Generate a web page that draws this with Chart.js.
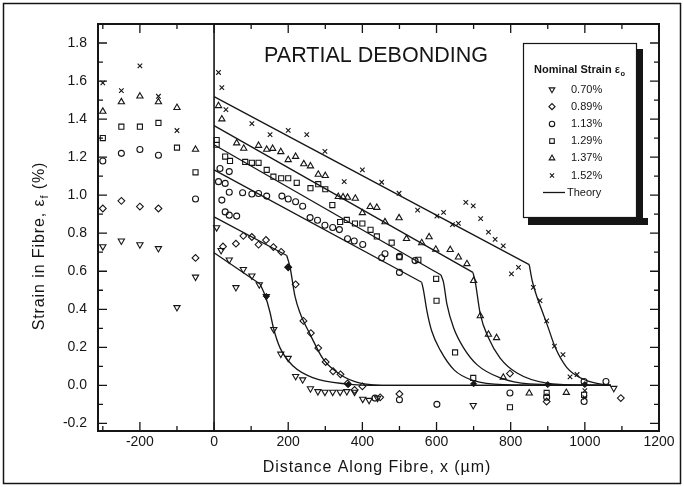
<!DOCTYPE html>
<html><head><meta charset="utf-8">
<script src="https://cdn.jsdelivr.net/npm/chart.js@4.4.1/dist/chart.umd.min.js"></script>
<style>html,body{margin:0;padding:0;background:#fff;}#c{display:block;}</style>
</head><body>
<canvas id="c" width="684" height="487"></canvas>
<script>
const FONT = '"Liberation Sans", Arial, Helvetica, sans-serif';
const INK = '#151515';

// ---- text ----
const chartTitle = 'PARTIAL DEBONDING';
const xAxisTitle = 'Distance Along Fibre, x (\u00b5m)';
const yAxisTitleParts = ['Strain in Fibre, \u03b5', 'f', ' (%)'];
const legendTitleParts = ['Nominal Strain \u03b5', 'o'];
const seriesLabels = ['0.70%', '0.89%', '1.13%', '1.29%', '1.37%', '1.52%'];
const theoryLabel = 'Theory';

// ---- axis ticks ----
const xRange = [-313, 1200];
const yRange = [-0.24, 1.90];
const xTickStep = 200, xMinorStep = 100;
const yTickStep = 0.2, yMinorStep = 0.1;

// ---- measured strain, [x (um), strain (%)] ----
const strain070 = [[-300,0.73],[-250,0.76],[-200,0.74],[-150,0.72],[-100,0.41],[-50,0.57],
  [7,0.83],[19,0.71],[41,0.66],[59,0.515],[79,0.61],[102,0.576],[122,0.53],[141,0.468],[161,0.295],
  [180,0.165],[200,0.143],[220,0.048],[239,0.03],[260,-0.017],[280,-0.032],[299,-0.035],[320,-0.035],
  [340,-0.035],[358,-0.032],[379,-0.035],[401,-0.072],[418,-0.078],[441,-0.067],[699,-0.105],[1078,-0.015]];
const strain089 = [[-300,0.93],[-250,0.97],[-200,0.94],[-150,0.93],[-50,0.67],
  [24,0.73],[59,0.745],[79,0.786],[102,0.78],[120,0.74],[140,0.764],[160,0.727],[181,0.702],[200,0.621],
  [220,0.531],[241,0.339],[261,0.275],[281,0.196],[301,0.123],[321,0.074],[341,0.058],[360,0.01],
  [379,-0.024],[400,-0.005],[448,-0.063],[500,-0.045],[798,0.062],[897,-0.085],[1097,-0.067]];
const strain113 = [[-300,1.18],[-250,1.22],[-200,1.24],[-150,1.21],[-50,0.98],
  [16,1.14],[41,1.124],[12,1.071],[30,1.062],[21,0.974],[41,1.015],[30,0.912],[41,0.895],[61,0.89],
  [77,1.013],[102,1.006],[120,1.009],[142,0.995],[183,0.995],[200,0.98],[220,0.965],[239,0.942],
  [259,0.882],[279,0.868],[299,0.842],[320,0.83],[338,0.819],[360,0.771],[378,0.759],[401,0.741],
  [452,0.671],[461,0.692],[500,0.678],[500,0.594],[542,0.656],[434,-0.067],[500,-0.076],[601,-0.1],
  [798,-0.04],[897,-0.062],[998,0.02],[998,-0.085],[1057,0.02]];
const strain129 = [[-300,1.30],[-250,1.36],[-200,1.36],[-150,1.38],[-100,1.25],[-50,1.12],
  [7,1.29],[7,1.265],[30,1.203],[43,1.18],[84,1.175],[102,1.17],[120,1.17],[142,1.133],[160,1.097],
  [181,1.089],[200,1.089],[223,1.065],[260,1.037],[281,1.058],[300,1.031],[319,0.948],[340,0.859],
  [358,0.87],[380,0.851],[400,0.851],[422,0.818],[439,0.783],[479,0.75],[500,0.674],[551,0.66],
  [599,0.56],[600,0.445],[650,0.173],[699,0.039],[798,-0.115],[897,-0.04],[998,-0.05]];
const strain137 = [[-300,1.44],[-250,1.49],[-200,1.52],[-150,1.49],[-100,1.46],[-50,1.24],
  [12,1.47],[21,1.40],[61,1.274],[80,1.246],[120,1.261],[142,1.24],[158,1.245],[180,1.228],[200,1.186],
  [220,1.203],[242,1.164],[260,1.153],[281,1.109],[300,1.102],[335,0.992],[348,0.99],[360,0.988],
  [381,0.983],[400,0.907],[421,0.939],[439,0.935],[461,0.859],[499,0.88],[519,0.771],[560,0.749],
  [580,0.78],[598,0.715],[637,0.713],[659,0.674],[682,0.639],[700,0.55],[718,0.365],[740,0.268],
  [762,0.25],[780,0.042],[850,-0.041],[950,-0.038]];
const strain152 = [[-300,1.59],[-250,1.55],[-200,1.68],[-150,1.52],[-100,1.34],
  [12,1.645],[21,1.565],[32,1.45],[102,1.376],[151,1.318],[200,1.341],[250,1.318],[299,1.23],
  [351,1.071],[400,1.133],[452,1.068],[499,1.01],[549,0.921],[601,0.89],[619,0.91],[643,0.845],
  [659,0.852],[679,0.962],[699,0.944],[719,0.877],[740,0.806],[758,0.768],[780,0.733],[802,0.586],
  [821,0.62],[861,0.515],[879,0.445],[897,0.339],[918,0.206],[941,0.162],[960,0.045],[979,0.057],
  [1000,-0.028],[1000,-0.065]];
// heavy overlapping marks that print as solid black
const overlapMarks = [[141,0.468],[200,0.621],[362,0.004],[700,0.008],[900,0.004],[1000,0.004]];

// ---- theory: linear part, then decay part ----
const theory070Line = [[0,0.697],[124,0.533]];
const theory070Decay = [[124,0.533],[138,0.471],[151,0.383],[160,0.303],[178,0.197],[214,0.100],[268,0.039],[358,0.007],[450,0],[1070,0]];
const theory089Line = [[0,0.886],[196,0.683]];
const theory089Decay = [[196,0.683],[205,0.621],[218,0.471],[232,0.38],[259,0.268],[295,0.136],[340,0.057],[394,0.012],[480,0],[1070,0]];
const theory113Line = [[0,1.133],[560,0.542]];
const theory113Decay = [[560,0.542],[565,0.498],[574,0.392],[587,0.286],[610,0.185],[648,0.08],[700,0.025],[780,0.004],[1070,0]];
const theory129Line = [[0,1.265],[612,0.58]];
const theory129Decay = [[612,0.58],[619,0.54],[628,0.427],[646,0.303],[673,0.197],[709,0.109],[772,0.039],[850,0.008],[1070,0]];
const theory137Line = [[0,1.366],[698,0.594]];
const theory137Decay = [[698,0.594],[704,0.55],[718,0.374],[740,0.25],[771,0.145],[817,0.065],[897,0.012],[1000,0.001],[1070,0]];
const theory152Line = [[0,1.518],[850,0.635]];
const theory152Decay = [[850,0.635],[858,0.55],[870,0.47],[885,0.39],[900,0.31],[920,0.2],[951,0.095],[996,0.032],[1040,0.008],[1070,0]];

const toXY = a => a.map(p => ({x: p[0], y: p[1]}));

const markerStyles = [
  {pointStyle: 'triangle', rotation: 180, radius: 3.6},
  {pointStyle: 'rectRot', rotation: 0, radius: 3.4},
  {pointStyle: 'circle', rotation: 0, radius: 3.0},
  {pointStyle: 'rect', rotation: 0, radius: 3.6},
  {pointStyle: 'triangle', rotation: 0, radius: 3.6},
  {pointStyle: 'crossRot', rotation: 0, radius: 3.2}
];
const measured = [strain070, strain089, strain113, strain129, strain137, strain152];
const theoryParts = [
  [theory070Line, 0], [theory070Decay, 1], [theory089Line, 0], [theory089Decay, 1],
  [theory113Line, 0], [theory113Decay, 1], [theory129Line, 0], [theory129Decay, 1],
  [theory137Line, 0], [theory137Decay, 1], [theory152Line, 0], [theory152Decay, 1]
];

const datasets = [];
measured.forEach((arr, i) => {
  datasets.push({
    label: seriesLabels[i], data: toXY(arr), showLine: false,
    pointStyle: markerStyles[i].pointStyle, rotation: markerStyles[i].rotation,
    pointRadius: markerStyles[i].radius, pointBorderWidth: 1.1,
    borderColor: INK, backgroundColor: 'rgba(0,0,0,0)',
    pointBorderColor: INK, pointBackgroundColor: 'rgba(0,0,0,0)'
  });
});
datasets.push({
  label: 'overlap', data: toXY(overlapMarks), showLine: false, pointStyle: 'rectRot',
  pointRadius: 3, pointBorderWidth: 1, pointBorderColor: INK, pointBackgroundColor: INK
});
theoryParts.forEach(([arr, curved]) => {
  datasets.push({
    label: theoryLabel, data: toXY(arr), showLine: true, pointRadius: 0,
    borderColor: INK, borderWidth: 1.3, fill: false,
    tension: 0, cubicInterpolationMode: curved ? 'monotone' : 'default'
  });
});

function spacedText(ctx, parts, x, y, sizes, offsets) {
  // draws consecutive text pieces starting at x on baseline y
  let cx = x;
  parts.forEach((t, i) => {
    ctx.font = sizes[i] + 'px ' + FONT;
    ctx.fillText(t, cx, y + offsets[i]);
    cx += ctx.measureText(t).width;
  });
  return cx - x;
}
function measureParts(ctx, parts, sizes) {
  let w = 0;
  parts.forEach((t, i) => { ctx.font = sizes[i] + 'px ' + FONT; w += ctx.measureText(t).width; });
  return w;
}

const decorations = {
  id: 'decorations',
  afterDraw(chart) {
    const ctx = chart.ctx;
    const {left, right, top, bottom} = chart.chartArea;
    const xs = chart.scales.x, ys = chart.scales.y;
    ctx.save();
    ctx.strokeStyle = INK; ctx.fillStyle = INK;

    // vertical line at x = 0
    const x0 = xs.getPixelForValue(0);
    ctx.lineWidth = 1.6;
    ctx.beginPath(); ctx.moveTo(x0, top); ctx.lineTo(x0, bottom); ctx.stroke();

    // inward ticks on all four sides
    ctx.lineWidth = 1.3;
    ctx.beginPath();
    for (let v = Math.ceil(xRange[0] / xMinorStep) * xMinorStep; v <= xRange[1]; v += xMinorStep) {
      const p = xs.getPixelForValue(v);
      const len = (v % xTickStep === 0) ? 9 : 5;
      ctx.moveTo(p, bottom); ctx.lineTo(p, bottom - len);
      ctx.moveTo(p, top); ctx.lineTo(p, top + len);
    }
    for (let k = Math.ceil(yRange[0] / yMinorStep); k * yMinorStep <= yRange[1] + 1e-9; k++) {
      const v = k * yMinorStep;
      const p = ys.getPixelForValue(v);
      const len = (k % 2 === 0) ? 9 : 5;
      ctx.moveTo(left, p); ctx.lineTo(left + len, p);
      ctx.moveTo(right, p); ctx.lineTo(right - len, p);
    }
    ctx.stroke();

    // plot frame
    ctx.lineWidth = 2;
    ctx.strokeRect(left, top, right - left, bottom - top);

    // outer frame of the figure
    ctx.lineWidth = 1.5;
    ctx.strokeRect(3.5, 3.5, chart.width - 7, chart.height - 7);

    // title
    ctx.font = '21.5px ' + FONT;
    ctx.textAlign = 'center'; ctx.textBaseline = 'alphabetic';
    ctx.fillText(chartTitle, 376, 61.5);

    // x axis title
    ctx.textAlign = 'left';
    ctx.letterSpacing = '0.9px';
    ctx.font = '16px ' + FONT;
    const xw = ctx.measureText(xAxisTitle).width;
    ctx.fillText(xAxisTitle, 377 - xw / 2, 472);

    // y axis title (rotated, with subscript)
    const ySizes = [16, 11, 16], yOffs = [0, 4, 0];
    const yw = measureParts(ctx, yAxisTitleParts, ySizes);
    ctx.save();
    ctx.translate(43.5, 246);
    ctx.rotate(-Math.PI / 2);
    spacedText(ctx, yAxisTitleParts, -yw / 2, 0, ySizes, yOffs);
    ctx.restore();
    ctx.letterSpacing = '0px';

    // legend box with drop shadow
    const L = {l: 523, t: 43, r: 637, b: 218};
    ctx.fillStyle = INK;
    ctx.fillRect(L.r, L.t + 6, 6, L.b - L.t + 1);
    ctx.fillRect(L.l + 5, L.b, L.r - L.l + 6, 7);
    ctx.fillStyle = '#fff';
    ctx.fillRect(L.l, L.t, L.r - L.l, L.b - L.t);
    ctx.lineWidth = 1.2; ctx.strokeStyle = INK;
    ctx.strokeRect(L.l + 0.5, L.t + 0.5, L.r - L.l - 1, L.b - L.t - 1);
    ctx.fillStyle = INK;
    ctx.textBaseline = 'middle'; ctx.textAlign = 'left';
    ctx.font = 'bold 11px ' + FONT;
    const tw1 = ctx.measureText(legendTitleParts[0]).width;
    ctx.fillText(legendTitleParts[0], 534, 70);
    ctx.font = 'bold 7.5px ' + FONT;
    ctx.fillText(legendTitleParts[1], 534 + tw1 + 0.5, 73.5);
    ctx.font = '11px ' + FONT;
    const helpers = Chart.helpers;
    seriesLabels.forEach((lab, i) => {
      const yy = 89.5 + i * 17.2;
      ctx.strokeStyle = INK; ctx.fillStyle = 'rgba(0,0,0,0)'; ctx.lineWidth = 1.1;
      helpers.drawPoint(ctx, {pointStyle: markerStyles[i].pointStyle, rotation: markerStyles[i].rotation,
        radius: markerStyles[i].radius * 0.9, borderWidth: 1.1}, 552, yy);
      ctx.fillStyle = INK;
      ctx.fillText(lab, 571, yy);
    });
    ctx.lineWidth = 1.3;
    ctx.beginPath(); ctx.moveTo(543, 192.5); ctx.lineTo(565, 192.5); ctx.stroke();
    ctx.fillText(theoryLabel, 567, 192.5);
    ctx.restore();
  }
};

new Chart(document.getElementById('c'), {
  type: 'scatter',
  data: {datasets},
  plugins: [decorations],
  options: {
    responsive: false, animation: false, devicePixelRatio: 1,
    layout: {padding: {left: 0, right: 25, top: 24, bottom: 0}},
    plugins: {legend: {display: false}, tooltip: {enabled: false}},
    scales: {
      x: {
        type: 'linear', min: xRange[0], max: xRange[1],
        border: {display: false}, grid: {display: false, drawTicks: false},
        ticks: {stepSize: xTickStep, includeBounds: false, padding: 3, color: INK,
          font: {family: FONT, size: 14}, maxRotation: 0, autoSkip: false,
          callback: v => String(Math.round(v))},
        afterFit: s => { s.height = 56; }
      },
      y: {
        type: 'linear', min: yRange[0], max: yRange[1],
        border: {display: false}, grid: {display: false, drawTicks: false},
        ticks: {stepSize: yTickStep, includeBounds: false, padding: 11, color: INK,
          font: {family: FONT, size: 14}, autoSkip: false,
          callback: v => (Math.abs(v) < 1e-9 ? 0 : v).toFixed(1)},
        afterFit: s => { s.width = 98; }
      }
    }
  }
});
</script>
</body></html>
